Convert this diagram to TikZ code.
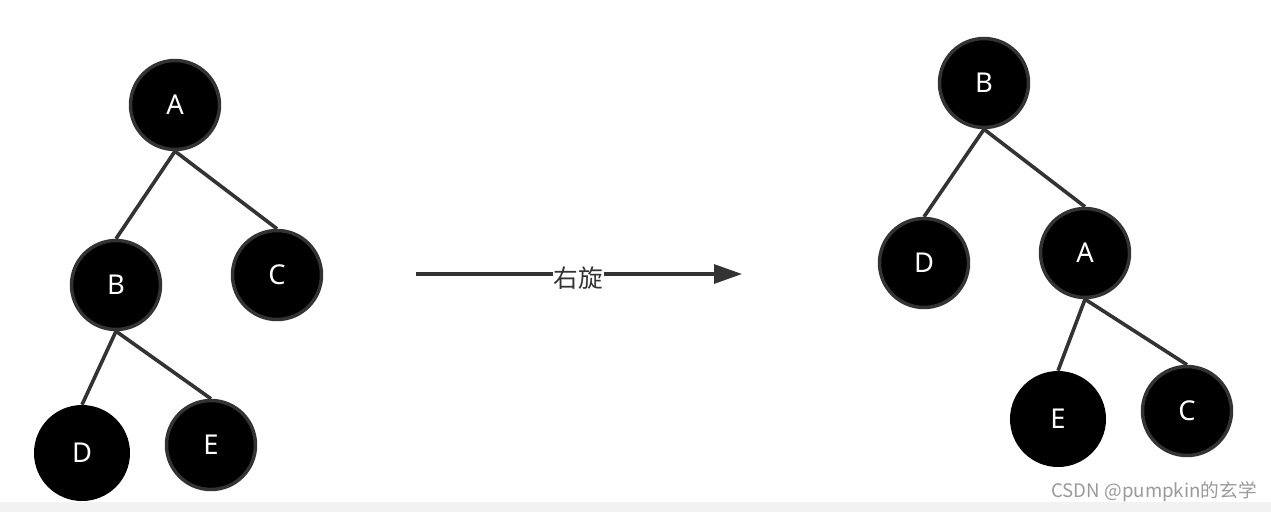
\documentclass[tikz,border=0pt]{standalone}
\usepackage{fontspec}
\setmainfont{Noto Sans}
\newfontfamily\cjk{Noto Sans CJK SC}
\usetikzlibrary{arrows.meta}
\definecolor{edgegray}{HTML}{333333}
\definecolor{stripgray}{HTML}{F2F2F2}
\definecolor{markgray}{HTML}{9A9A9A}
\begin{document}
\begin{tikzpicture}[x=0.75pt,y=-0.75pt,
  tnode/.style={circle,fill=black,draw=edgegray,line width=2.6pt,minimum size=89*0.75pt,inner sep=0pt,text=white,font=\fontsize{20.5}{22}\selectfont},
  tnodeplain/.style={circle,fill=black,minimum size=96*0.75pt,inner sep=0pt,text=white,font=\fontsize{20.5}{22}\selectfont},
  tedge/.style={draw=edgegray,line width=2.7pt}]
\useasboundingbox (0,0) rectangle (1271,512);
\fill[white] (0,0) rectangle (1271,512);
\fill[stripgray] (0,502) rectangle (1271,512);
% left tree
\node[tnode] (lA) at (175,105) {A};
\node[tnode] (lB) at (116,285) {B};
\node[tnode] (lC) at (277,275) {C};
\node[tnodeplain] (lD) at (82,453) {D};
\node[tnode] (lE) at (211,445) {E};
\draw[tedge] (lA.south) -- (lB.north);
\draw[tedge] (lA.south) -- (lC.north);
\draw[tedge] (lB.south) -- (lD.north);
\draw[tedge] (lB.south) -- (lE.north);
% right tree
\node[tnode] (rB) at (984,83) {B};
\node[tnode] (rD) at (924,263) {D};
\node[tnode] (rA) at (1085,253) {A};
\node[tnodeplain] (rE) at (1058,419) {E};
\node[tnode] (rC) at (1187,411) {C};
\draw[tedge] (rB.south) -- (rD.north);
\draw[tedge] (rB.south) -- (rA.north);
\draw[tedge] (rA.south) -- (rE.north);
\draw[tedge] (rA.south) -- (rC.north);
% arrow
\coordinate (as) at (416,274);
\coordinate (ae) at (742,274);
\draw[edgegray,line width=2.3pt,-{Triangle[length=28*0.75pt,width=19*0.75pt]}] (as) -- (ae)
  node[pos=0.498,fill=white,inner sep=0.5pt,text=edgegray,font=\cjk\fontsize{18.5}{20}\selectfont,yshift=-3pt] (lbl) {右旋};
% watermark
\node[anchor=east,text=markgray,font=\cjk\fontsize{14}{16}\selectfont,inner sep=0pt] (wm) at (1257,492) {CSDN @pumpkin的玄学};
\end{tikzpicture}
\end{document}
